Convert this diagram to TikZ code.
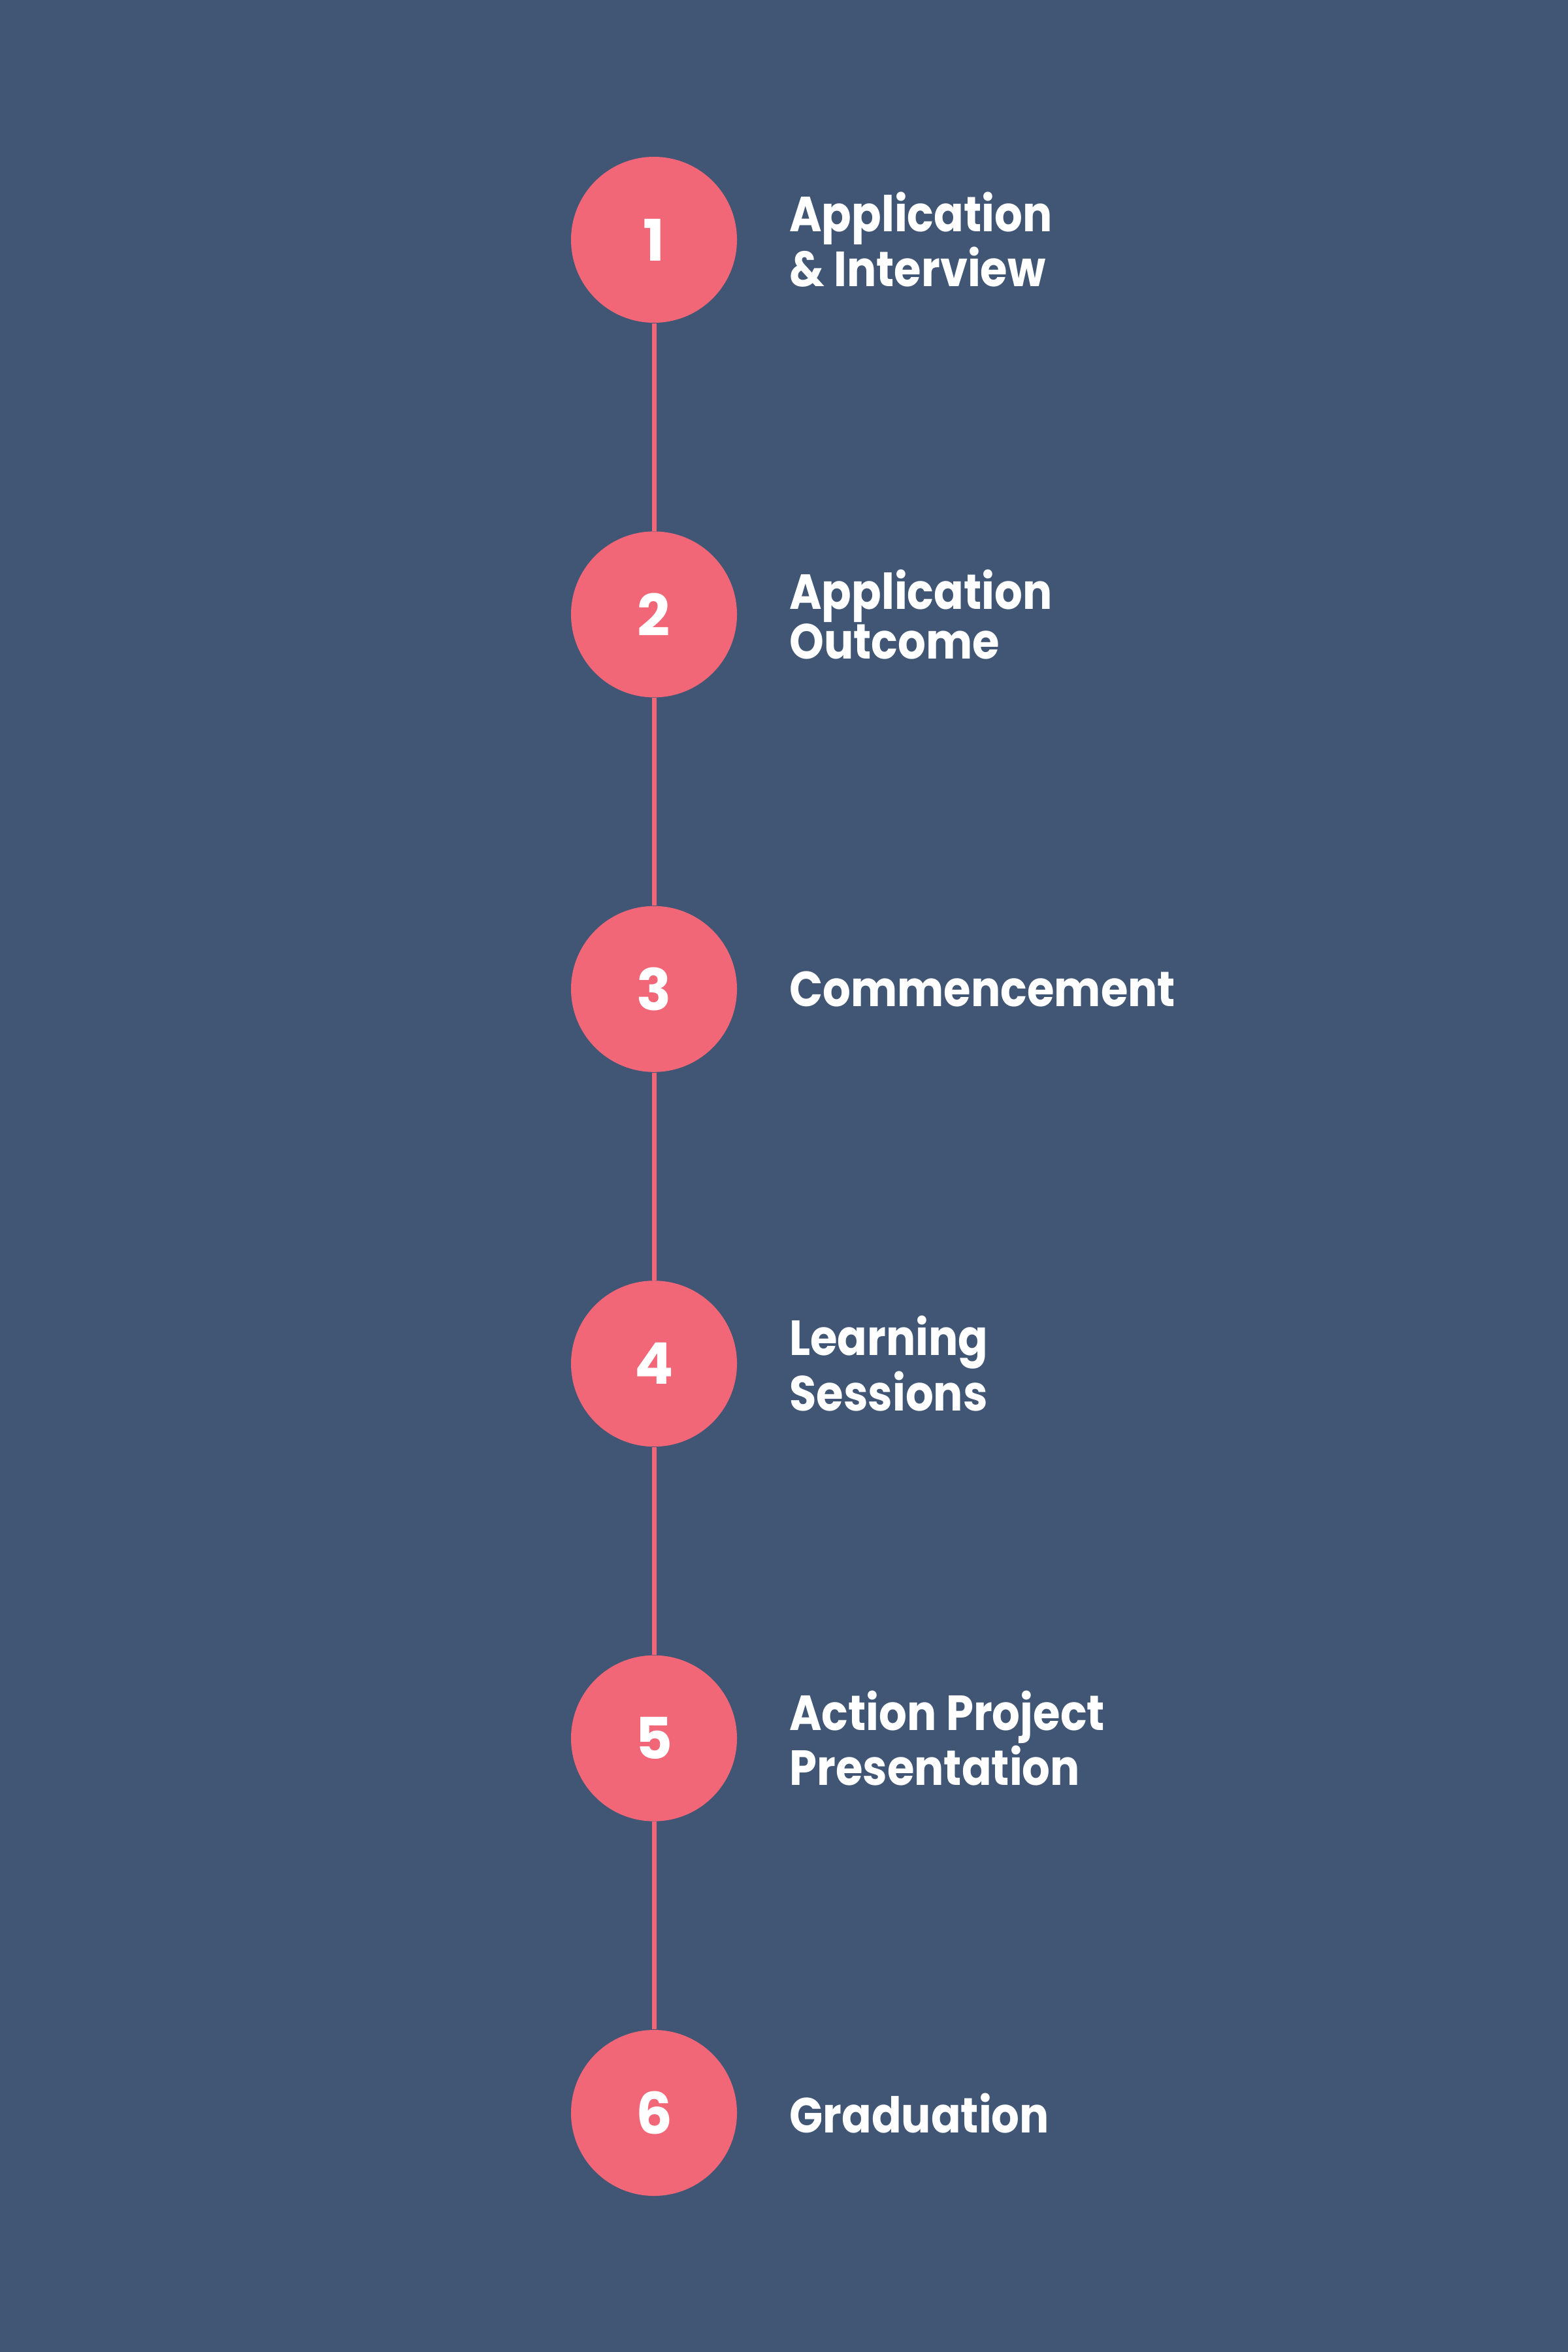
\documentclass[tikz,border=0pt]{standalone}
\usepackage{fontspec}
\setmainfont{Poppins}
\newfontfamily\labelfont{Poppins}[FakeStretch=0.89, BoldFeatures={FakeStretch=0.89}]
\usetikzlibrary{positioning}
\definecolor{bgblue}{RGB}{65,86,117}
\definecolor{stepred}{RGB}{241,103,120}
\tikzset{
	stepdot/.style={circle, fill=stepred, minimum size=2.54cm, inner sep=0pt, text=white, font=\fontsize{25}{25}\selectfont\bfseries},
	steplabel/.style={right=0.79cm of #1, inner sep=0pt, align=left, text=white, font=\labelfont\fontsize{21.5}{21.6}\selectfont\bfseries},
	stepline/.style={stepred, line width=0.07cm}
}
\begin{document}
\begin{tikzpicture}
		% Draw background
		\fill[bgblue] (0,0) rectangle (24,-36);
		\useasboundingbox (0,0) rectangle (24,-36);
		
		% Draw steps
		\node[stepdot] (s1) at (10.01,-3.67) {1};
		\node[stepdot, below=3.18cm of s1] (s2) {2};
		\node[stepdot, below=3.18cm of s2] (s3) {3};
		\node[stepdot, below=3.18cm of s3] (s4) {4};
		\node[stepdot, below=3.18cm of s4] (s5) {5};
		\node[stepdot, below=3.18cm of s5] (s6) {6};
		
		% Draw connecting line
		\draw[stepline] (s1) -- (s2);
		\draw[stepline] (s2) -- (s3);
		\draw[stepline] (s3) -- (s4);
		\draw[stepline] (s4) -- (s5);
		\draw[stepline] (s5) -- (s6);
		
		% Label steps
		\node[steplabel=s1] (l1) {Application\\\& Interview};
		\node[steplabel=s2] (l2) {Application\\Outcome};
		\node[steplabel=s3] (l3) {Commencement};
		\node[steplabel=s4] (l4) {Learning\\Sessions};
		\node[steplabel=s5] (l5) {Action Project\\Presentation};
		\node[steplabel=s6] (l6) {Graduation};
		
	\end{tikzpicture}
\end{document}
